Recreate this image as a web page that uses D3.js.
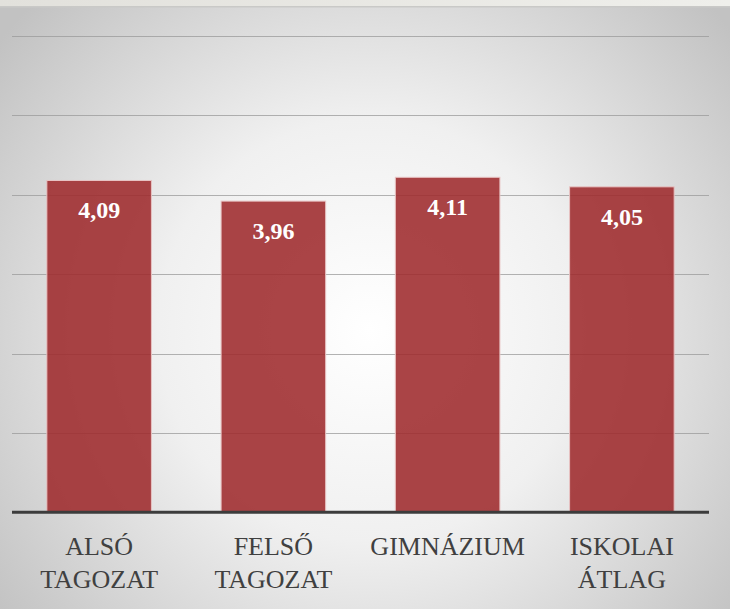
<!DOCTYPE html>
<html>
<head>
<meta charset="utf-8">
<script src="https://cdn.jsdelivr.net/npm/d3@7"></script>
<style>
  html, body { margin: 0; padding: 0; overflow: hidden; }
  svg { display: block; }
</style>
</head>
<body>
<script>
// School averages by section
const categories = ["ALSÓ TAGOZAT", "FELSŐ TAGOZAT", "GIMNÁZIUM", "ISKOLAI ÁTLAG"];
const values = [4.09, 3.96, 4.11, 4.05];
const valueLabels = ["4,09", "3,96", "4,11", "4,05"];
const gridTicks = [2.5, 3, 3.5, 4, 4.5, 5];

const W = 730, H = 609;
const serif = "'Liberation Serif', 'Times New Roman', serif";
const svg = d3.select("body").append("svg").attr("width", W).attr("height", H);

const defs = svg.append("defs");
const bg = defs.append("radialGradient").attr("id", "bg")
  .attr("gradientUnits", "userSpaceOnUse")
  .attr("cx", 370).attr("cy", 330).attr("r", 470);
bg.append("stop").attr("offset", "0").attr("stop-color", "#ffffff");
bg.append("stop").attr("offset", "0.45").attr("stop-color", "#f0f0f0");
bg.append("stop").attr("offset", "1").attr("stop-color", "#c2c2c2");

svg.append("rect").attr("width", W).attr("height", H).attr("fill", "url(#bg)");

// strip along the top edge
const strip = defs.append("linearGradient").attr("id", "strip");
strip.append("stop").attr("offset", "0").attr("stop-color", "#e2e1dc");
strip.append("stop").attr("offset", "1").attr("stop-color", "#efefeb");
svg.append("rect").attr("width", W).attr("height", 6).attr("fill", "url(#strip)");
svg.append("rect").attr("y", 6).attr("width", W).attr("height", 1.5).attr("fill", "#c9c9c7");

const x = d3.scaleBand().domain(categories).range([12, 709]).paddingInner(0.4).paddingOuter(0.2);
const y = d3.scaleLinear().domain([2, 5]).range([512.3, 36]);

// gridlines
svg.append("g").selectAll("line").data(gridTicks).join("line")
  .attr("x1", 12).attr("x2", 709)
  .attr("y1", d => Math.round(y(d)) + 0.5).attr("y2", d => Math.round(y(d)) + 0.5)
  .attr("stroke", "#9a9a9a").attr("stroke-opacity", 0.75).attr("stroke-width", 1);

// bars
svg.append("g").selectAll("rect").data(values).join("rect")
  .attr("x", (d, i) => x(categories[i]))
  .attr("y", d => y(d))
  .attr("width", x.bandwidth())
  .attr("height", d => y(2) - y(d))
  .attr("fill", "#9e2a2c")
  .attr("fill-opacity", 0.88)
  .attr("stroke", "#e8c4c4")
  .attr("stroke-width", 1);

// value labels
svg.append("g").selectAll("text").data(values).join("text")
  .attr("x", (d, i) => x(categories[i]) + x.bandwidth() / 2)
  .attr("y", d => y(d) + 38)
  .attr("text-anchor", "middle")
  .style("font-family", serif)
  .style("font-weight", "bold")
  .style("font-size", "24px")
  .attr("fill", "#ffffff")
  .text((d, i) => valueLabels[i]);

// baseline axis
const axis = svg.append("g").attr("transform", `translate(0,${y(2)})`)
  .call(d3.axisBottom(x).tickSize(0).tickFormat(""));
axis.select(".domain").remove();
axis.append("line").attr("x1", 12).attr("x2", 709).attr("y1", 0).attr("y2", 0)
  .attr("stroke", "#3c3c3c").attr("stroke-width", 3);

// category labels, two lines each
axis.selectAll(".tick").each(function(d) {
  const words = d.split(" ");
  const t = d3.select(this).append("text")
    .attr("text-anchor", "middle")
    .style("font-family", serif)
    .style("font-size", "26px")
    .attr("fill", "#404040");
  words.forEach((w, i) => {
    t.append("tspan").attr("x", 0).attr("y", 43 + i * 33).text(w);
  });
});
</script>
</body>
</html>
